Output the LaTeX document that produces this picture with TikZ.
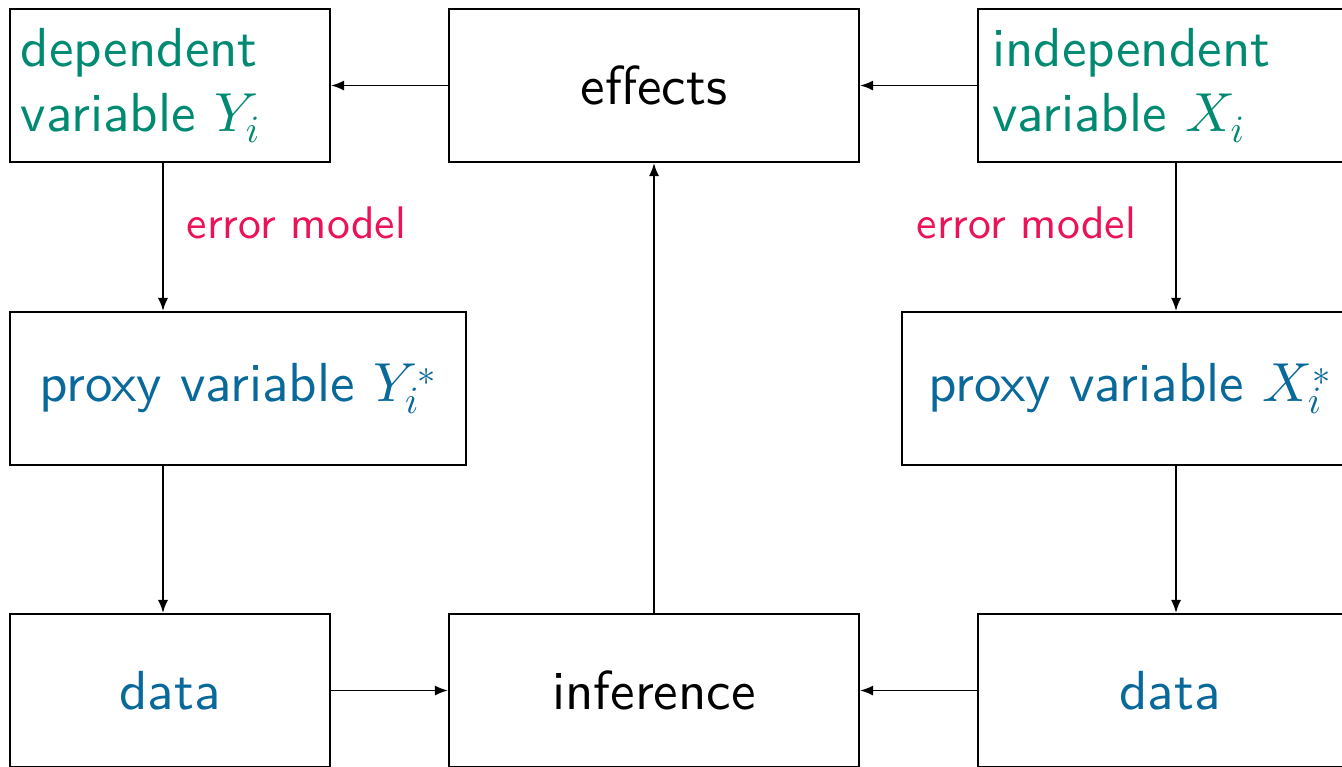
\documentclass[tikz,border=0pt]{standalone}
\usepackage{tikz}
\usepackage{xcolor}
\usetikzlibrary{arrows}
\usetikzlibrary{arrows.meta}
\usetikzlibrary{shapes}

% sans serif and math italic in the 10pt design at every size
\DeclareFontFamily{TU}{lmss}{}
\DeclareFontShape{TU}{lmss}{m}{n}{<->\UnicodeFontFile{lmsans10-regular}{\UnicodeFontTeXLigatures}}{}
\DeclareFontShape{OML}{cmm}{m}{it}{<->cmmi10}{}

\definecolor{vargreen}{HTML}{008A72}
\definecolor{proxyblue}{HTML}{08699A}
\definecolor{errpink}{HTML}{EC1257}

\begin{document}
\begin{tikzpicture}[line width=1.1pt, >={Latex[length=7.5pt,width=5.8pt]}] %Rahmen wird unten/rechts abgeschnitten
\tikzstyle{box} = [draw, rectangle, minimum height=3.06cm, inner sep=0.22cm, font=\sffamily\fontsize{31.3}{37}\selectfont]
\tikzstyle{varbox} = [box, text=vargreen, align=left]
\tikzstyle{errlabel} = [inner sep=0, text=errpink, font=\sffamily\fontsize{26}{30}\selectfont]
\clip (0,0) rectangle (26.84,-15.32);
\node[varbox, text width=5.96cm] (dep) at (3.40,-1.71) {dependent\\variable $Y_i$};
\node[box, minimum width=8.20cm] (effects) at (13.08,-1.71) {effects};
\node[varbox, text width=7.12cm, inner xsep=0.28cm] (indep) at (23.40,-1.71) {independent\\variable $X_i$};
\node[box, text=proxyblue, minimum width=9.12cm] (proxyY) at (4.76,-7.77) {proxy variable $Y_i^*$};
\node[box, text=proxyblue, minimum width=9.12cm] (proxyX) at (22.60,-7.77) {proxy variable $X_i^*$};
\node[box, text=proxyblue, minimum width=6.40cm] (dataY) at (3.40,-13.81) {data};
\node[box, minimum width=8.20cm] (infer) at (13.08,-13.81) {inference};
\node[box, text=proxyblue, minimum width=7.68cm] (dataX) at (23.40,-13.81) {data};
\foreach \from/\to in {effects/dep, indep/effects, dataY/infer, dataX/infer, infer/effects}
\draw [->] (\from) -- (\to);
\draw [->] ([xshift=-0.14cm]dep.south) -- ([xshift=-0.14cm]dep.south |- proxyY.north)
  node (errY) [errlabel, midway, anchor=west, xshift=0.46cm, yshift=0.29cm] {error model};
\draw [->] ([xshift=-0.14cm]dep.south |- proxyY.south) -- ([xshift=-0.14cm]dep.south |- dataY.north);
\draw [->] ([xshift=0.12cm]indep.south) -- ([xshift=0.12cm]indep.south |- proxyX.north)
  node (errX) [errlabel, midway, anchor=east, xshift=-0.78cm, yshift=0.29cm] {error model};
\draw [->] ([xshift=0.12cm]indep.south |- proxyX.south) -- ([xshift=0.12cm]indep.south |- dataX.north);
\end{tikzpicture}
\end{document}
